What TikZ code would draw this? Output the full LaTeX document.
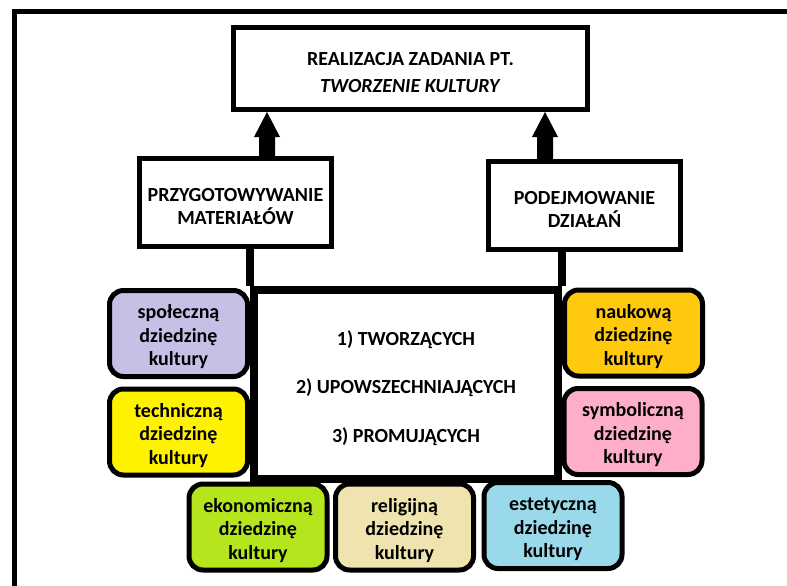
\documentclass[tikz,border=0pt]{standalone}
\usepackage{fontspec}
\setmainfont{Carlito}
\usetikzlibrary{calc}

\definecolor{fLav}{HTML}{C8BFE7}
\definecolor{fYel}{HTML}{FFF200}
\definecolor{fLime}{HTML}{B5E61D}
\definecolor{fTan}{HTML}{EFE4B0}
\definecolor{fTurq}{HTML}{99D9EA}
\definecolor{fGold}{HTML}{FFC90E}
\definecolor{fRose}{HTML}{FFAEC9}

% invisible strut that pushes a text block a little lower in its box
\newcommand\topgap{\rule{0pt}{21pt}}

\begin{document}
\begin{tikzpicture}[x=1pt,y=-1pt,
  every node/.style={font=\bfseries\fontsize{20}{23.5}\selectfont,
    align=center, inner sep=0pt, text=black},
  plainbox/.style={draw, line width=5pt, fill=white,
    minimum width=192pt, minimum height=88pt},
  field/.style={draw, line width=5pt, rounded corners=14pt,
    minimum width=138pt, minimum height=86pt},
]
\useasboundingbox[fill=white] (0,0) rectangle (787,586);

% outer frame (runs off the page at the right and bottom)
\draw[line width=5pt] (14.5,600) -- (14.5,12) -- (800,12);

% goal box
\node[draw, line width=5pt, minimum width=354pt, minimum height=82pt,
      font=\bfseries\fontsize{20}{27}\selectfont]
  (goal) at (410.5,68.5) {\topgap REALIZACJA ZADANIA PT.\\\textit{TWORZENIE KULTURY}};

% the two activities
\node[plainbox] (prep) at (235.5,202.5) {\topgap PRZYGOTOWYWANIE\\MATERIAŁÓW};
\node[plainbox] (act)  at (584.5,205.5) {\topgap PODEJMOWANIE\\DZIAŁAŃ};

% central box of actions
\node[draw, line width=8pt, minimum width=304pt, minimum height=189pt,
      font=\bfseries\fontsize{20}{48.5}\selectfont]
  (core) at (406,384.5) {\rule{0pt}{22pt}1) TWORZĄCYCH\\2) UPOWSZECHNIAJĄCYCH\\3) PROMUJĄCYCH};

% thick links into the central box
\draw[line width=8pt] (prep.south -| core.west) -- (core.north west);
\draw[line width=8pt] (act.south -| core.east) -- (core.north east);

% block arrows up to the goal
\coordinate (a1) at ($(prep.north)+(31.5,0)$);
\coordinate (b1) at (a1 |- goal.south);
\fill ($(a1)+(-8,0)$) -- ($(b1)+(-8,25)$) -- ($(b1)+(-13,25)$) -- (b1)
      -- ($(b1)+(13,25)$) -- ($(b1)+(8,25)$) -- ($(a1)+(8,0)$) -- cycle;
\coordinate (a2) at ($(act.north)+(-39.5,0)$);
\coordinate (b2) at (a2 |- goal.south);
\fill ($(a2)+(-8,0)$) -- ($(b2)+(-8,25)$) -- ($(b2)+(-13,25)$) -- (b2)
      -- ($(b2)+(13,25)$) -- ($(b2)+(8,25)$) -- ($(a2)+(8,0)$) -- cycle;

% fields of culture
\node[field, fill=fLav]  (spol) at (178.5,333.5) {\topgap społeczną\\dziedzinę\\kultury};
\node[field, fill=fYel]  (tech) at (178.5,432)   {\topgap techniczną\\dziedzinę\\kultury};
\node[field, fill=fLime] (ekon) at (258,527)     {\topgap ekonomiczną\\dziedzinę\\kultury};
\node[field, fill=fTan]  (reli) at (404.5,527)   {\topgap religijną\\dziedzinę\\kultury};
\node[field, fill=fTurq] (este) at (553,525.5)   {\topgap estetyczną\\dziedzinę\\kultury};
\node[field, fill=fGold] (nauk) at (633.5,333)   {\topgap naukową\\dziedzinę\\kultury};
\node[field, fill=fRose] (symb) at (633,431.5)   {\topgap symboliczną\\dziedzinę\\kultury};
\end{tikzpicture}
\end{document}
